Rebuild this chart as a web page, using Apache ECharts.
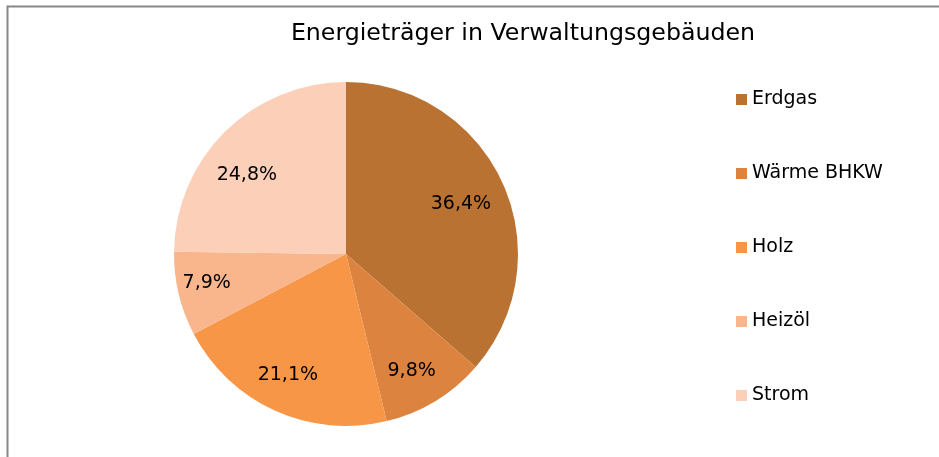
<!DOCTYPE html>
<html>
<head>
<meta charset="utf-8">
<script src="https://cdn.jsdelivr.net/npm/echarts@6/dist/echarts.min.js"></script>
<style>
  html, body { margin: 0; padding: 0; background: #fff; }
  #chart { width: 939px; height: 457px; }
</style>
</head>
<body>
<div id="chart"></div>
<script>
// Anteile der Energieträger (Prozent)
const categories = ['Erdgas', 'Wärme BHKW', 'Holz', 'Heizöl', 'Strom'];
const shares = [36.4, 9.8, 21.1, 7.9, 24.8];
const colors = ['#BA7232', '#DC843F', '#F79646', '#F9B58C', '#FBCFB8'];

const FONT = 'DejaVu Sans';
const center = [346, 254];
// kleine Verschiebungen der Prozentbeschriftungen
const labelNudge = [[-7, 6], [-4, 3], [-3, -1], [-9, -2], [-5, 16]];

const pieData = categories.map((name, i) => ({ name, value: shares[i] }));
const labelData = categories.map((name, i) => ({
  name, value: shares[i], label: { offset: labelNudge[i] }
}));

const chart = echarts.init(document.getElementById('chart'), null, { renderer: 'canvas' });
chart.setOption({
  animation: false,
  backgroundColor: '#ffffff',
  color: colors,
  title: {
    text: 'Energieträger in Verwaltungsgebäuden',
    left: 518,
    top: 17,
    textAlign: 'center',
    textStyle: { fontFamily: FONT, fontSize: 23.7, fontWeight: 'normal', color: '#000' }
  },
  legend: {
    orient: 'vertical',
    left: 736,
    top: 90,
    padding: 0,
    icon: 'rect',
    itemWidth: 11,
    itemHeight: 11,
    itemGap: 55,
    textStyle: { fontFamily: FONT, fontSize: 19, color: '#000' },
    data: categories
  },
  graphic: [{
    type: 'rect',
    shape: { x: 7.5, y: 6.5, width: 1000, height: 1000 },
    style: { fill: 'none', stroke: '#878787', lineWidth: 2 },
    silent: true
  }],
  series: [
    {
      type: 'pie',
      center: center,
      radius: [0, 172],
      startAngle: 90,
      clockwise: true,
      label: { show: false },
      labelLine: { show: false },
      itemStyle: { borderWidth: 0 },
      emphasis: { disabled: true },
      data: pieData
    },
    {
      // Transparenter Ring nur für die Prozentbeschriftungen
      type: 'pie',
      center: center,
      radius: [90, 172],
      startAngle: 90,
      clockwise: true,
      silent: true,
      legendHoverLink: false,
      itemStyle: { color: 'rgba(0,0,0,0)', borderWidth: 0 },
      label: {
        show: true,
        position: 'inside',
        fontFamily: FONT,
        fontSize: 19,
        color: '#000',
        formatter: p => p.value.toFixed(1).replace('.', ',') + '%'
      },
      labelLine: { show: false },
      emphasis: { disabled: true },
      data: labelData
    }
  ]
});
</script>
</body>
</html>
